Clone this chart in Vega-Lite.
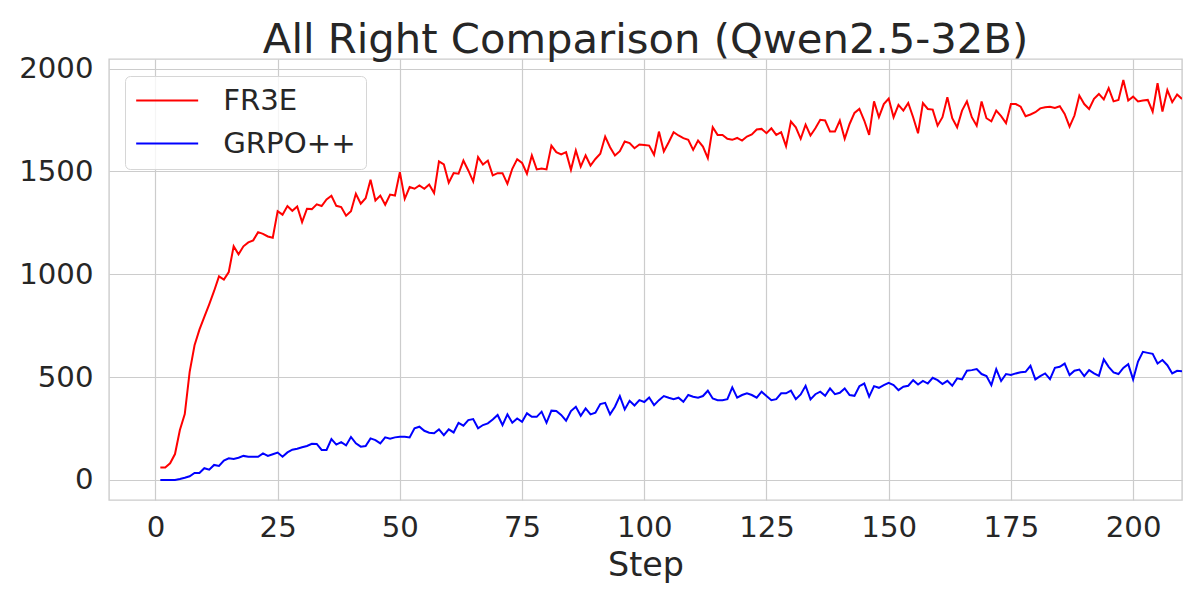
{
  "$schema": "https://vega.github.io/schema/vega-lite/v6.json",
  "autosize": {"type": "none"},
  "padding": {"left": 109, "top": 59, "right": 18, "bottom": 100},
  "width": 1073,
  "height": 441,
  "background": "white",
  "title": {
    "text": "All Right Comparison (Qwen2.5-32B)",
    "font": "DejaVu Sans",
    "fontSize": 41.7,
    "fontWeight": "normal",
    "color": "#262626",
    "anchor": "middle",
    "frame": "group",
    "baseline": "alphabetic",
    "offset": 7,
    "dy": 47
  },
  "config": {
    "view": {"stroke": "#cccccc", "strokeWidth": 1.4},
    "font": "DejaVu Sans",
    "axis": {
      "labelFont": "DejaVu Sans",
      "titleFont": "DejaVu Sans",
      "labelColor": "#262626",
      "titleColor": "#262626",
      "labelFontSize": 29.2,
      "titleFontSize": 33.3,
      "titleFontWeight": "normal",
      "gridColor": "#cccccc",
      "gridWidth": 1.2,
      "domain": false,
      "ticks": false
    }
  },
  "data": {
    "values": [
      {"step":1,"FR3E":60,"GRPO++":0},{"step":2,"FR3E":61,"GRPO++":0},{"step":3,"FR3E":81,"GRPO++":0},{"step":4,"FR3E":126,"GRPO++":0},{"step":5,"FR3E":243,"GRPO++":5},
      {"step":6,"FR3E":320,"GRPO++":11},{"step":7,"FR3E":526,"GRPO++":18},{"step":8,"FR3E":655,"GRPO++":34},{"step":9,"FR3E":731,"GRPO++":34},{"step":10,"FR3E":793,"GRPO++":57},
      {"step":11,"FR3E":854,"GRPO++":50},{"step":12,"FR3E":919,"GRPO++":73},{"step":13,"FR3E":990,"GRPO++":68},{"step":14,"FR3E":974,"GRPO++":94},{"step":15,"FR3E":1011,"GRPO++":105},
      {"step":16,"FR3E":1136,"GRPO++":102},{"step":17,"FR3E":1097,"GRPO++":108},{"step":18,"FR3E":1136,"GRPO++":117},{"step":19,"FR3E":1155,"GRPO++":113},{"step":20,"FR3E":1165,"GRPO++":113},
      {"step":21,"FR3E":1205,"GRPO++":113},{"step":22,"FR3E":1197,"GRPO++":129},{"step":23,"FR3E":1184,"GRPO++":117},{"step":24,"FR3E":1178,"GRPO++":125},{"step":25,"FR3E":1307,"GRPO++":133},
      {"step":26,"FR3E":1290,"GRPO++":113},{"step":27,"FR3E":1332,"GRPO++":134},{"step":28,"FR3E":1309,"GRPO++":147},{"step":29,"FR3E":1330,"GRPO++":152},{"step":30,"FR3E":1254,"GRPO++":159},
      {"step":31,"FR3E":1319,"GRPO++":165},{"step":32,"FR3E":1317,"GRPO++":176},{"step":33,"FR3E":1340,"GRPO++":175},{"step":34,"FR3E":1332,"GRPO++":146},{"step":35,"FR3E":1364,"GRPO++":146},
      {"step":36,"FR3E":1382,"GRPO++":199},{"step":37,"FR3E":1333,"GRPO++":172},{"step":38,"FR3E":1327,"GRPO++":184},{"step":39,"FR3E":1285,"GRPO++":168},{"step":40,"FR3E":1307,"GRPO++":209},
      {"step":41,"FR3E":1392,"GRPO++":178},{"step":42,"FR3E":1343,"GRPO++":162},{"step":43,"FR3E":1370,"GRPO++":165},{"step":44,"FR3E":1460,"GRPO++":202},{"step":45,"FR3E":1359,"GRPO++":194},
      {"step":46,"FR3E":1383,"GRPO++":178},{"step":47,"FR3E":1338,"GRPO++":207},{"step":48,"FR3E":1388,"GRPO++":201},{"step":49,"FR3E":1383,"GRPO++":207},{"step":50,"FR3E":1497,"GRPO++":210},
      {"step":51,"FR3E":1367,"GRPO++":210},{"step":52,"FR3E":1424,"GRPO++":207},{"step":53,"FR3E":1416,"GRPO++":251},{"step":54,"FR3E":1432,"GRPO++":259},{"step":55,"FR3E":1416,"GRPO++":239},
      {"step":56,"FR3E":1437,"GRPO++":230},{"step":57,"FR3E":1395,"GRPO++":227},{"step":58,"FR3E":1549,"GRPO++":246},{"step":59,"FR3E":1534,"GRPO++":218},{"step":60,"FR3E":1445,"GRPO++":246},
      {"step":61,"FR3E":1492,"GRPO++":231},{"step":62,"FR3E":1489,"GRPO++":278},{"step":63,"FR3E":1553,"GRPO++":264},{"step":64,"FR3E":1505,"GRPO++":291},{"step":65,"FR3E":1451,"GRPO++":296},
      {"step":66,"FR3E":1570,"GRPO++":251},{"step":67,"FR3E":1534,"GRPO++":267},{"step":68,"FR3E":1553,"GRPO++":275},{"step":69,"FR3E":1481,"GRPO++":294},{"step":70,"FR3E":1492,"GRPO++":316},
      {"step":71,"FR3E":1492,"GRPO++":267},{"step":72,"FR3E":1440,"GRPO++":319},{"step":73,"FR3E":1513,"GRPO++":278},{"step":74,"FR3E":1560,"GRPO++":299},{"step":75,"FR3E":1542,"GRPO++":283},
      {"step":76,"FR3E":1489,"GRPO++":324},{"step":77,"FR3E":1578,"GRPO++":307},{"step":78,"FR3E":1510,"GRPO++":307},{"step":79,"FR3E":1515,"GRPO++":332},{"step":80,"FR3E":1510,"GRPO++":278},
      {"step":81,"FR3E":1626,"GRPO++":337},{"step":82,"FR3E":1594,"GRPO++":335},{"step":83,"FR3E":1583,"GRPO++":316},{"step":84,"FR3E":1594,"GRPO++":288},{"step":85,"FR3E":1508,"GRPO++":335},
      {"step":86,"FR3E":1602,"GRPO++":356},{"step":87,"FR3E":1524,"GRPO++":312},{"step":88,"FR3E":1578,"GRPO++":348},{"step":89,"FR3E":1529,"GRPO++":319},{"step":90,"FR3E":1561,"GRPO++":327},
      {"step":91,"FR3E":1586,"GRPO++":369},{"step":92,"FR3E":1670,"GRPO++":375},{"step":93,"FR3E":1618,"GRPO++":319},{"step":94,"FR3E":1578,"GRPO++":356},{"step":95,"FR3E":1599,"GRPO++":408},
      {"step":96,"FR3E":1646,"GRPO++":343},{"step":97,"FR3E":1638,"GRPO++":385},{"step":98,"FR3E":1613,"GRPO++":362},{"step":99,"FR3E":1631,"GRPO++":388},{"step":100,"FR3E":1629,"GRPO++":379},
      {"step":101,"FR3E":1626,"GRPO++":401},{"step":102,"FR3E":1581,"GRPO++":364},{"step":103,"FR3E":1694,"GRPO++":388},{"step":104,"FR3E":1597,"GRPO++":408},{"step":105,"FR3E":1642,"GRPO++":400},
      {"step":106,"FR3E":1691,"GRPO++":393},{"step":107,"FR3E":1675,"GRPO++":400},{"step":108,"FR3E":1662,"GRPO++":380},{"step":109,"FR3E":1654,"GRPO++":413},{"step":110,"FR3E":1605,"GRPO++":405},
      {"step":111,"FR3E":1650,"GRPO++":400},{"step":112,"FR3E":1621,"GRPO++":408},{"step":113,"FR3E":1565,"GRPO++":434},{"step":114,"FR3E":1715,"GRPO++":396},{"step":115,"FR3E":1678,"GRPO++":388},
      {"step":116,"FR3E":1678,"GRPO++":388},{"step":117,"FR3E":1659,"GRPO++":393},{"step":118,"FR3E":1654,"GRPO++":450},{"step":119,"FR3E":1663,"GRPO++":400},{"step":120,"FR3E":1650,"GRPO++":413},
      {"step":121,"FR3E":1670,"GRPO++":421},{"step":122,"FR3E":1680,"GRPO++":413},{"step":123,"FR3E":1704,"GRPO++":400},{"step":124,"FR3E":1707,"GRPO++":429},{"step":125,"FR3E":1686,"GRPO++":408},
      {"step":126,"FR3E":1710,"GRPO++":388},{"step":127,"FR3E":1678,"GRPO++":393},{"step":128,"FR3E":1691,"GRPO++":421},{"step":129,"FR3E":1623,"GRPO++":421},{"step":130,"FR3E":1743,"GRPO++":434},
      {"step":131,"FR3E":1715,"GRPO++":393},{"step":132,"FR3E":1659,"GRPO++":416},{"step":133,"FR3E":1728,"GRPO++":458},{"step":134,"FR3E":1675,"GRPO++":392},{"step":135,"FR3E":1710,"GRPO++":417},
      {"step":136,"FR3E":1751,"GRPO++":429},{"step":137,"FR3E":1748,"GRPO++":409},{"step":138,"FR3E":1694,"GRPO++":445},{"step":139,"FR3E":1694,"GRPO++":417},{"step":140,"FR3E":1748,"GRPO++":424},
      {"step":141,"FR3E":1659,"GRPO++":445},{"step":142,"FR3E":1731,"GRPO++":413},{"step":143,"FR3E":1785,"GRPO++":409},{"step":144,"FR3E":1804,"GRPO++":456},{"step":145,"FR3E":1748,"GRPO++":469},
      {"step":146,"FR3E":1678,"GRPO++":405},{"step":147,"FR3E":1841,"GRPO++":456},{"step":148,"FR3E":1764,"GRPO++":448},{"step":149,"FR3E":1828,"GRPO++":461},{"step":150,"FR3E":1855,"GRPO++":472},
      {"step":151,"FR3E":1764,"GRPO++":461},{"step":152,"FR3E":1824,"GRPO++":437},{"step":153,"FR3E":1796,"GRPO++":453},{"step":154,"FR3E":1833,"GRPO++":458},{"step":155,"FR3E":1764,"GRPO++":485},
      {"step":156,"FR3E":1686,"GRPO++":464},{"step":157,"FR3E":1833,"GRPO++":482},{"step":158,"FR3E":1804,"GRPO++":469},{"step":159,"FR3E":1801,"GRPO++":497},{"step":160,"FR3E":1723,"GRPO++":485},
      {"step":161,"FR3E":1764,"GRPO++":466},{"step":162,"FR3E":1861,"GRPO++":482},{"step":163,"FR3E":1759,"GRPO++":458},{"step":164,"FR3E":1715,"GRPO++":494},{"step":165,"FR3E":1796,"GRPO++":489},
      {"step":166,"FR3E":1841,"GRPO++":531},{"step":167,"FR3E":1764,"GRPO++":534},{"step":168,"FR3E":1723,"GRPO++":539},{"step":169,"FR3E":1840,"GRPO++":515},{"step":170,"FR3E":1759,"GRPO++":505},
      {"step":171,"FR3E":1744,"GRPO++":461},{"step":172,"FR3E":1796,"GRPO++":539},{"step":173,"FR3E":1769,"GRPO++":481},{"step":174,"FR3E":1735,"GRPO++":515},{"step":175,"FR3E":1828,"GRPO++":510},
      {"step":176,"FR3E":1828,"GRPO++":518},{"step":177,"FR3E":1815,"GRPO++":524},{"step":178,"FR3E":1769,"GRPO++":526},{"step":179,"FR3E":1777,"GRPO++":555},{"step":180,"FR3E":1788,"GRPO++":489},
      {"step":181,"FR3E":1807,"GRPO++":505},{"step":182,"FR3E":1812,"GRPO++":518},{"step":183,"FR3E":1815,"GRPO++":490},{"step":184,"FR3E":1809,"GRPO++":545},{"step":185,"FR3E":1817,"GRPO++":550},
      {"step":186,"FR3E":1780,"GRPO++":566},{"step":187,"FR3E":1718,"GRPO++":510},{"step":188,"FR3E":1772,"GRPO++":531},{"step":189,"FR3E":1869,"GRPO++":537},{"step":190,"FR3E":1828,"GRPO++":505},
      {"step":191,"FR3E":1804,"GRPO++":534},{"step":192,"FR3E":1853,"GRPO++":518},{"step":193,"FR3E":1877,"GRPO++":506},{"step":194,"FR3E":1850,"GRPO++":586},{"step":195,"FR3E":1905,"GRPO++":550},
      {"step":196,"FR3E":1841,"GRPO++":523},{"step":197,"FR3E":1848,"GRPO++":515},{"step":198,"FR3E":1945,"GRPO++":545},{"step":199,"FR3E":1845,"GRPO++":563},{"step":200,"FR3E":1864,"GRPO++":489},
      {"step":201,"FR3E":1841,"GRPO++":576},{"step":202,"FR3E":1845,"GRPO++":623},{"step":203,"FR3E":1848,"GRPO++":618},{"step":204,"FR3E":1791,"GRPO++":613},{"step":205,"FR3E":1929,"GRPO++":566},
      {"step":206,"FR3E":1791,"GRPO++":583},{"step":207,"FR3E":1896,"GRPO++":558},{"step":208,"FR3E":1837,"GRPO++":518},{"step":209,"FR3E":1874,"GRPO++":531},{"step":210,"FR3E":1853,"GRPO++":529}
    ]
  },
  "transform": [{"fold": ["FR3E", "GRPO++"], "as": ["method", "value"]}],
  "mark": {"type": "line", "strokeWidth": 2, "clip": true},
  "encoding": {
    "x": {
      "field": "step",
      "type": "quantitative",
      "scale": {"domain": [-9.5, 210], "nice": false, "zero": false},
      "axis": {
        "title": "Step",
        "values": [0, 25, 50, 75, 100, 125, 150, 175, 200],
        "format": "d",
        "labelPadding": 36,
        "labelBaseline": "alphabetic",
        "titleBaseline": "alphabetic",
        "titleY": 75,
        "grid": true,
        "labelFlush": false,
        "labelOverlap": false
      }
    },
    "y": {
      "field": "value",
      "type": "quantitative",
      "scale": {"domain": [-97.5, 2047], "nice": false, "zero": false},
      "axis": {
        "title": null,
        "values": [0, 500, 1000, 1500, 2000],
        "format": "d",
        "labelPadding": 16,
        "labelBaseline": "middle",
        "grid": true,
        "labelFlush": false,
        "labelOverlap": false
      }
    },
    "color": {
      "field": "method",
      "type": "nominal",
      "scale": {"domain": ["FR3E", "GRPO++"], "range": ["#ff0000", "#0000ff"]},
      "legend": {
        "title": null,
        "orient": "none",
        "legendX": 16,
        "legendY": 17,
        "symbolType": "M-1.3,0H4.7",
        "symbolSize": 427,
        "symbolStrokeWidth": 2,
        "labelFont": "DejaVu Sans",
        "labelFontSize": 29.2,
        "labelColor": "#262626",
        "labelOffset": 59,
        "padding": 10,
        "rowPadding": 13,
        "fillColor": "rgba(255,255,255,0.8)",
        "strokeColor": "#d6d6d6",
        "cornerRadius": 5
      }
    }
  }
}
